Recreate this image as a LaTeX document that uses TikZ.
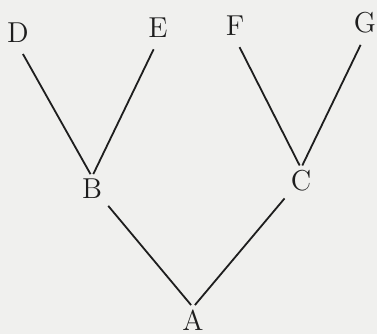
\documentclass[tikz,border=0pt]{standalone}
\usepackage{tikz}
\usetikzlibrary{positioning}
\definecolor{PaperGray}{RGB}{240,240,238}
\definecolor{InkDark}{RGB}{30,30,30}

\begin{document}
\begin{tikzpicture}[
    x=0.5pt, y=-0.5pt,
    letter/.style={inner sep=1pt, font=\Large, text=InkDark},
    branch/.style={draw=InkDark, line width=0.9pt, shorten <=5pt, shorten >=1.5pt}
]
\fill[PaperGray] (0,0) rectangle (377,334);
\useasboundingbox (0,0) rectangle (377,334);

% leaves
\node[letter] (D) at (18,33) {D};
\node[letter] (E) at (158,28) {E};
\node[letter] (F) at (235,26) {F};
\node[letter] (G) at (365,23) {G};

% inner nodes and root
\node[letter] (B) at (92,189) {B};
\node[letter] (C) at (301,181) {C};
\node[letter] (A) at (193,320) {A};

\draw[branch] (D.south) -- (B.north);
\draw[branch] (E.south) -- (B.north);
\draw[branch] (F.south) -- (C.north);
\draw[branch] (G.south) -- (C.north);
\draw[branch, shorten <=3pt] (B.south east) -- (A.north);
\draw[branch, shorten <=3pt] (C.south west) -- (A.north);
\end{tikzpicture}
\end{document}
